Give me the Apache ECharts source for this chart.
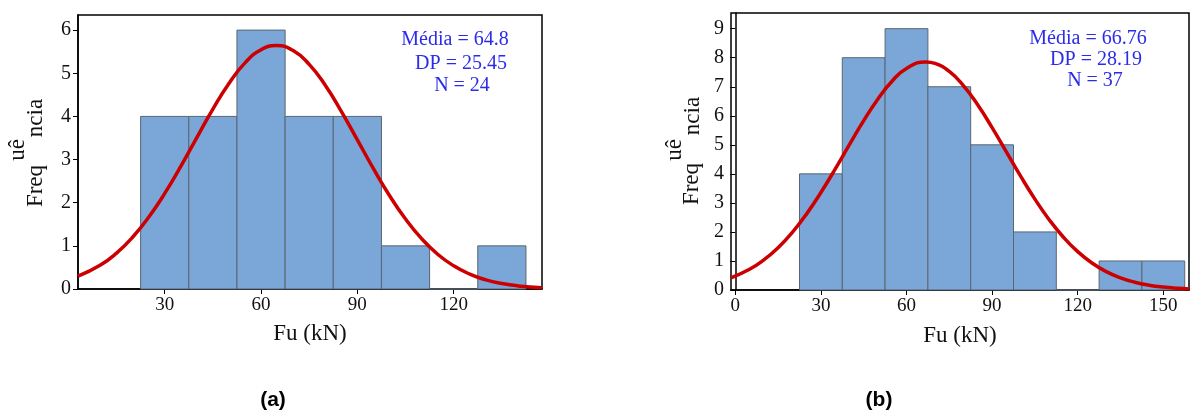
<!DOCTYPE html>
<html>
<head>
<meta charset="utf-8">
<script src="https://cdn.jsdelivr.net/npm/echarts@6/dist/echarts.min.js"></script>
<style>
  html, body { margin: 0; padding: 0; background: #fff; }
  #chart { width: 1190px; height: 413px; }
</style>
</head>
<body>
<div id="chart"></div>
<script>
// (a) histogram
const binEdgesA = [22.5, 37.5, 52.5, 67.5, 82.5, 97.5, 112.5, 127.5, 142.5];
const countsA = [4, 4, 6, 4, 4, 1, 0, 1];
const curveXA = [3, 10, 15, 20, 25, 30, 35, 40, 45, 50, 55, 60, 64.8, 70, 75, 80, 85, 90, 95, 100, 105, 110, 115, 120, 125, 130, 135, 140, 147.5];
const curveYA = [0.296, 0.556, 0.832, 1.199, 1.661, 2.215, 2.843, 3.510, 4.170, 4.765, 5.240, 5.544, 5.643, 5.526, 5.207, 4.722, 4.118, 3.456, 2.791, 2.168, 1.621, 1.166, 0.806, 0.537, 0.344, 0.212, 0.126, 0.072, 0.029];
const xTicksA = [30, 60, 90, 120];
const yTicksA = [0, 1, 2, 3, 4, 5, 6];
const statsA = ['Média = 64.8', 'DP = 25.45', 'N = 24'];

// (b) histogram
const binEdgesB = [22.5, 37.5, 52.5, 67.5, 82.5, 97.5, 112.5, 127.5, 142.5, 157.5];
const countsB = [4, 8, 9, 7, 5, 2, 0, 1, 1];
const curveXB = [-1.5, 5, 10, 15, 20, 25, 30, 35, 40, 45, 50, 55, 60, 66.76, 70, 75, 80, 85, 90, 95, 100, 105, 110, 115, 120, 125, 130, 135, 140, 145, 150, 155, 159];
const curveYB = [0.419, 0.712, 1.034, 1.455, 1.985, 2.622, 3.357, 4.163, 5.006, 5.831, 6.581, 7.200, 7.631, 7.854, 7.802, 7.526, 7.034, 6.371, 5.591, 4.755, 3.919, 3.130, 2.422, 1.817, 1.320, 0.929, 0.634, 0.419, 0.269, 0.167, 0.1005, 0.0585, 0.037];
const xTicksB = [0, 30, 60, 90, 120, 150];
const yTicksB = [0, 1, 2, 3, 4, 5, 6, 7, 8, 9];
const statsB = ['Média = 66.76', 'DP = 28.19', 'N = 37'];

const serif = 'Liberation Serif';
const blue = '#2b2be8';
const ink = '#111';

function bins(edges, counts) {
    return counts.map((c, i) => [edges[i], edges[i + 1], c]);
}

function renderBar(params, api) {
    var p0 = api.coord([api.value(0), api.value(2)]);
    var p1 = api.coord([api.value(1), 0]);
    return {
        type: 'rect',
        shape: {x: p0[0], y: p0[1], width: p1[0] - p0[0], height: p1[1] - p0[1]},
        style: {fill: '#7ba6d8', stroke: '#5b6570', lineWidth: 1}
    };
}

function xAxisOf(grid, min, max, ticks, gap) {
    return {
        type: 'value', gridIndex: grid, min: min, max: max,
        axisLine: {lineStyle: {color: '#000', width: 1.5}},
        axisTick: {customValues: ticks, length: 5, lineStyle: {color: '#000'}},
        axisLabel: {customValues: ticks, fontFamily: serif, fontSize: 19, color: ink, margin: 7},
        splitLine: {show: false},
        name: 'Fu (kN)', nameLocation: 'middle', nameGap: gap,
        nameTextStyle: {fontFamily: serif, fontSize: 23, color: ink}
    };
}

function yAxisOf(grid, max, ticks) {
    return {
        type: 'value', gridIndex: grid, min: 0, max: max,
        axisLine: {show: true, lineStyle: {color: '#000', width: 1.5}},
        axisTick: {show: true, customValues: ticks, length: 5, lineStyle: {color: '#000'}},
        axisLabel: {customValues: ticks, fontFamily: serif, fontSize: 20, color: ink, margin: 7},
        splitLine: {show: false}
    };
}

function rotText(text, x, y) {
    return {
        type: 'text', x: x, y: y, rotation: Math.PI / 2,
        style: {text: text, fontFamily: serif, fontSize: 23, fill: ink, align: 'center', verticalAlign: 'middle'}
    };
}

function statText(text, x, y) {
    return {
        type: 'text', x: x, y: y,
        style: {text: text, fontFamily: serif, fontSize: 20, fill: blue, align: 'center', verticalAlign: 'middle'}
    };
}

var chart = echarts.init(document.getElementById('chart'));
var option = {
    animation: false,
    grid: [
        {left: 78, top: 15, width: 464, height: 274, show: true, borderColor: '#000', borderWidth: 1.5},
        {left: 731, top: 13, width: 458, height: 277, show: true, borderColor: '#000', borderWidth: 1.5}
    ],
    xAxis: [xAxisOf(0, 3, 147.5, xTicksA, 33), xAxisOf(1, -1.5, 159, xTicksB, 34)],
    yAxis: [yAxisOf(0, 6.35, yTicksA), yAxisOf(1, 9.54, yTicksB)],
    series: [
        {type: 'custom', xAxisIndex: 0, yAxisIndex: 0, data: bins(binEdgesA, countsA), renderItem: renderBar, encode: {x: [0, 1], y: 2}},
        {type: 'line', xAxisIndex: 0, yAxisIndex: 0, data: curveXA.map((x, i) => [x, curveYA[i]]),
         smooth: true, showSymbol: false, lineStyle: {color: '#cc0000', width: 3.5}},
        {type: 'custom', xAxisIndex: 1, yAxisIndex: 1, data: bins(binEdgesB, countsB), renderItem: renderBar, encode: {x: [0, 1], y: 2}},
        {type: 'line', xAxisIndex: 1, yAxisIndex: 1, data: curveXB.map((x, i) => [x, curveYB[i]]),
         smooth: true, showSymbol: false, lineStyle: {color: '#cc0000', width: 3.5}}
    ],
    graphic: [
        rotText('Freq', 36, 186), rotText('ncia', 36, 118), rotText('uê', 18, 150),
        rotText('Freq', 692, 184), rotText('ncia', 693, 116), rotText('uê', 675, 150),
        statText(statsA[0], 455, 40), statText(statsA[1], 461, 64), statText(statsA[2], 462, 86),
        statText(statsB[0], 1088, 39), statText(statsB[1], 1096, 60), statText(statsB[2], 1095, 81),
        {type: 'text', x: 273, y: 400, style: {text: '(a)', fontFamily: 'Liberation Sans', fontWeight: 'bold', fontSize: 21, fill: '#000', align: 'center', verticalAlign: 'middle'}},
        {type: 'text', x: 879, y: 400, style: {text: '(b)', fontFamily: 'Liberation Sans', fontWeight: 'bold', fontSize: 21, fill: '#000', align: 'center', verticalAlign: 'middle'}}
    ]
};
chart.setOption(option);
</script>
</body>
</html>
